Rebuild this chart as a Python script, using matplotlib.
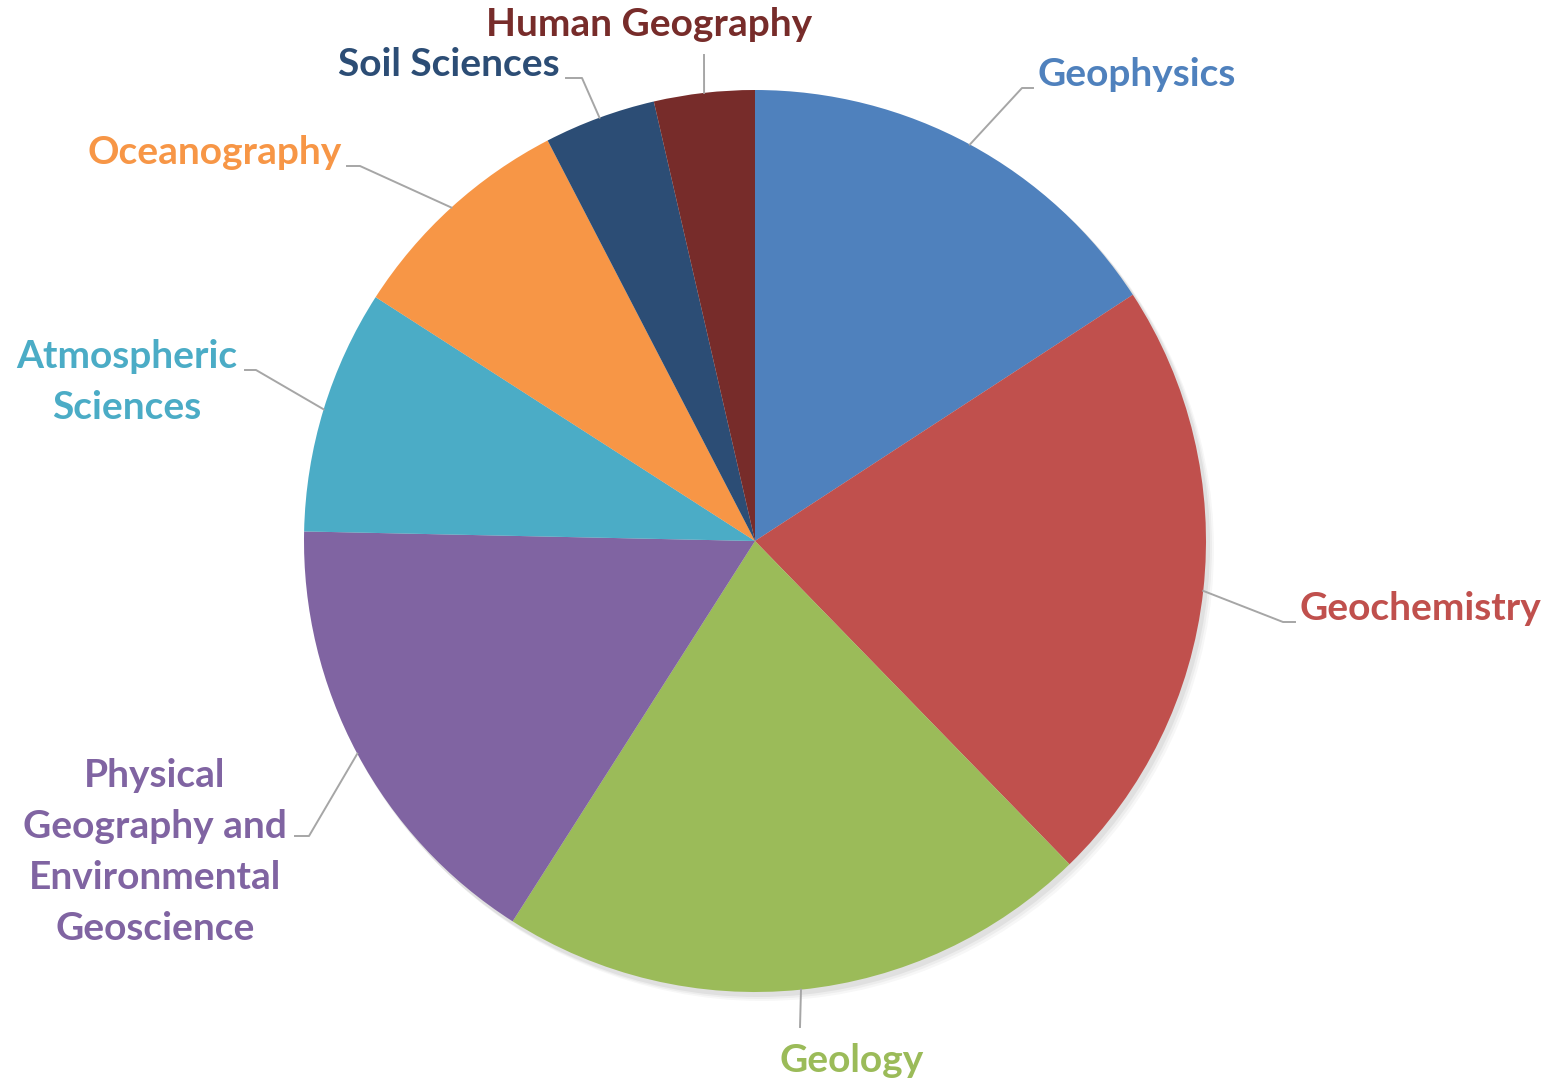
import numpy as np
import matplotlib.pyplot as plt

# ---- data ----
categories = ['Geophysics', 'Geochemistry', 'Geology',
              'Physical\nGeography and\nEnvironmental\nGeoscience',
              'Atmospheric\nSciences', 'Oceanography', 'Soil Sciences',
              'Human Geography']
shares = [15.8, 21.9, 21.3, 16.3, 8.75, 8.3, 4.0, 3.6]
colors = ['#4F81BD', '#C0504D', '#9BBB59', '#8064A2',
          '#4BACC6', '#F79646', '#2C4D75', '#772C2A']

W, H = 1554, 1084
fig = plt.figure(figsize=(W / 100, H / 100), dpi=100)
ax = fig.add_axes([0, 0, 1, 1])


def py(y):
    # pixel row -> data y
    return H - y


cx, cy, R = 755, py(541), 451

# faint shadow
for k, a in enumerate([0.05, 0.04, 0.03]):
    ax.add_patch(plt.Circle((cx + 3 + k * 2, cy - 4 - k * 2), R + 1,
                            color='black', alpha=a, lw=0, zorder=0))

wedges, _ = ax.pie(shares, colors=colors, startangle=90, counterclock=False,
                   center=(cx, cy), radius=R, frame=True,
                   wedgeprops=dict(linewidth=0))
ax.set_xlim(0, W)
ax.set_ylim(0, H)
ax.set_aspect('equal')
ax.axis('off')

# label layout (pixels): elbow point, end of leader, text centre
layout = [
    ((1022, 88), (1033, 88), (1137, 74)),
    ((1283, 622), (1295, 622), (1420, 608)),
    ((800, 1027), (800, 1027), (852, 1060)),
    ((309, 836), (295, 836), (155, 852)),
    ((256, 370), (245, 370), (127, 382)),
    ((360, 166), (347, 166), (215, 153)),
    ((582, 78), (566, 78), (449, 64)),
    ((704, 55), (704, 55), (649, 25)),
]

for w, lab, col, (elb, end, txt) in zip(wedges, categories, colors, layout):
    mid = np.deg2rad((w.theta1 + w.theta2) / 2)
    sx, sy = cx + R * np.cos(mid), cy + R * np.sin(mid)
    ax.plot([sx, elb[0], end[0]], [sy, py(elb[1]), py(end[1])],
            color='#A6A6A6', lw=1.4, zorder=3)
    ax.text(txt[0], py(txt[1]), lab, color=col, fontsize=28, fontweight='bold',
            family='Lato', ha='center', va='center', linespacing=1.55,
            zorder=4)

fig.savefig('out.png', dpi=100)
